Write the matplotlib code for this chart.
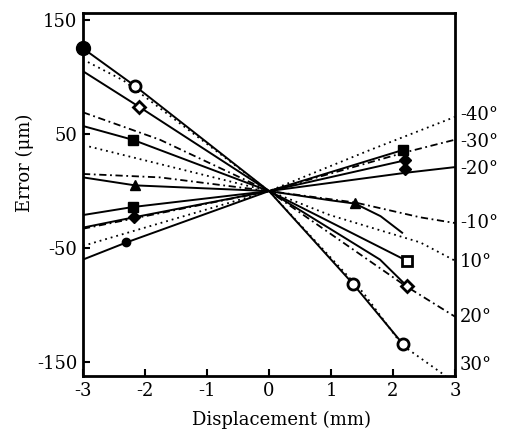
import matplotlib
matplotlib.use("Agg")
import matplotlib.pyplot as plt

# ---- data ----
x_ticks = [-3, -2, -1, 0, 1, 2, 3]
y_ticks = [150, 50, -50, -150]

# measured curves (solid)
m30_x = [-3, -2.16, 0, 1.35, 2.16]
m30_y = [125, 92, 0, -81, -134]
m20_x = [-3, -2.1, 0, 1.79, 2.22]
m20_y = [105, 74, 0, -60, -83]
m10_x = [-3, -2.2, 0, 2.22]
m10_y = [57, 45, 0, -61]
mn10_x = [-3, -2.16, 0, 0.98, 1.39, 1.8, 2.16]
mn10_y = [12, 5, 0, -8, -11, -22, -37]
mn20_x = [-3, -2.2, 0, 2.2, 3]
mn20_y = [-21, -14, 0, 16, 21]
mn30_x = [-3, -2.18, 0, 2.2]
mn30_y = [-32, -23, 0, 27]
mn40_x = [-3, -2.3, 0, 2.16]
mn40_y = [-60, -45, 0, 36]

# theoretical curves
t30_x = [-2.92, -2.35, 0, 1.52, 2.15, 2.85]
t30_y = [113, 97, 0, -89, -135, -162]
t20_x = [-3, -1.76, 0, 2.2, 3]
t20_y = [69, 45, 0, -83, -110]
t10_x = [-2.9, 0, 0.98, 2.44, 3]
t10_y = [39, 0, -21, -45, -61]
tn10_x = [-3, -1.76, 0, 1.39, 2.44, 3]
tn10_y = [15, 12, 0, -10, -23, -28]
tn30_x = [-3, 0, 2.2, 3]
tn30_y = [-33, 0, 34, 45]
tn40_x = [-3, 0, 1.63, 3]
tn40_y = [-48, 0, 36, 65]

# marker points
mk_fcirc_x = [-3]
mk_fcirc_y = [125]
mk_ocirc_x = [-2.16, 1.35, 2.16]
mk_ocirc_y = [92, -81, -134]
mk_odiam_x = [-2.1, 2.22]
mk_odiam_y = [74, -83]
mk_fsq_x = [-2.2, -2.2, 2.16]
mk_fsq_y = [45, -14, 36]
mk_osq_x = [2.22]
mk_osq_y = [-61]
mk_tri_x = [-2.16, 1.39]
mk_tri_y = [5, -10.5]
mk_fdiam_x = [-2.18, 2.2, 2.2]
mk_fdiam_y = [-23, 27, 19]
mk_fdot_x = [-2.3]
mk_fdot_y = [-45]

right_labels = ["-40°", "-30°", "-20°", "-10°", "10°", "20°", "30°"]
right_label_y = [67, 43, 19, -28, -62, -110, -152]

# ---- figure ----
W, H = 512, 433
fig = plt.figure(figsize=(W / 100, H / 100), dpi=100)
ax = fig.add_axes([83 / W, 1 - 376 / H, (455 - 83) / W, (376 - 13) / H])
ax.set_xlim(-3, 3)
ax.set_ylim(-162, 156)

k = 'black'
lw = 1.4
dot = (0, (1, 2.2))
dashdot = (0, (4, 2, 1, 2))

for xs, ys in [(m30_x, m30_y), (m20_x, m20_y), (m10_x, m10_y), (mn10_x, mn10_y),
               (mn20_x, mn20_y), (mn30_x, mn30_y), (mn40_x, mn40_y)]:
    ax.plot(xs, ys, color=k, lw=lw, solid_capstyle='butt')

for xs, ys, ls in [(t30_x, t30_y, dot), (t20_x, t20_y, dashdot), (t10_x, t10_y, dot),
                   (tn10_x, tn10_y, dashdot), (tn30_x, tn30_y, dashdot), (tn40_x, tn40_y, dot)]:
    ax.plot(xs, ys, color=k, lw=1.3, linestyle=ls)

ms = 7
ax.plot(mk_fcirc_x, mk_fcirc_y, 'o', ms=10, color=k, clip_on=False, zorder=5)
ax.plot(mk_ocirc_x, mk_ocirc_y, 'o', ms=8, mfc='white', mec=k, mew=2, zorder=5)
ax.plot(mk_odiam_x, mk_odiam_y, 'D', ms=6.5, mfc='white', mec=k, mew=2, zorder=5)
ax.plot(mk_fsq_x, mk_fsq_y, 's', ms=ms, color=k, zorder=5)
ax.plot(mk_osq_x, mk_osq_y, 's', ms=7, mfc='white', mec=k, mew=2, zorder=5)
ax.plot(mk_tri_x, mk_tri_y, '^', ms=ms, color=k, zorder=5)
ax.plot(mk_fdiam_x, mk_fdiam_y, 'D', ms=6, color=k, zorder=5)
ax.plot(mk_fdot_x, mk_fdot_y, 'o', ms=6, color=k, zorder=5)

font = 'DejaVu Serif'
ax.set_xticks(x_ticks)
ax.set_xticklabels([str(v) for v in x_ticks], fontsize=13, family=font)
ax.set_yticks(y_ticks)
ax.set_yticklabels([str(v) for v in y_ticks], fontsize=13, family=font)
ax.tick_params(direction='in', length=5, width=1.5, pad=4)
for s in ax.spines.values():
    s.set_linewidth(2)

for lab, yv in zip(right_labels, right_label_y):
    ax.text(3.08, yv, lab, fontsize=13, family=font, va='center', ha='left', clip_on=False)

fig.text(282 / W, 1 - 420 / H, "Displacement (mm)", fontsize=13, family=font,
         ha='center', va='center')
fig.text(25 / W, 1 - 163 / H, "Error (μm)", fontsize=13, family=font,
         ha='center', va='center', rotation=90)

fig.savefig("out.png", dpi=100)
